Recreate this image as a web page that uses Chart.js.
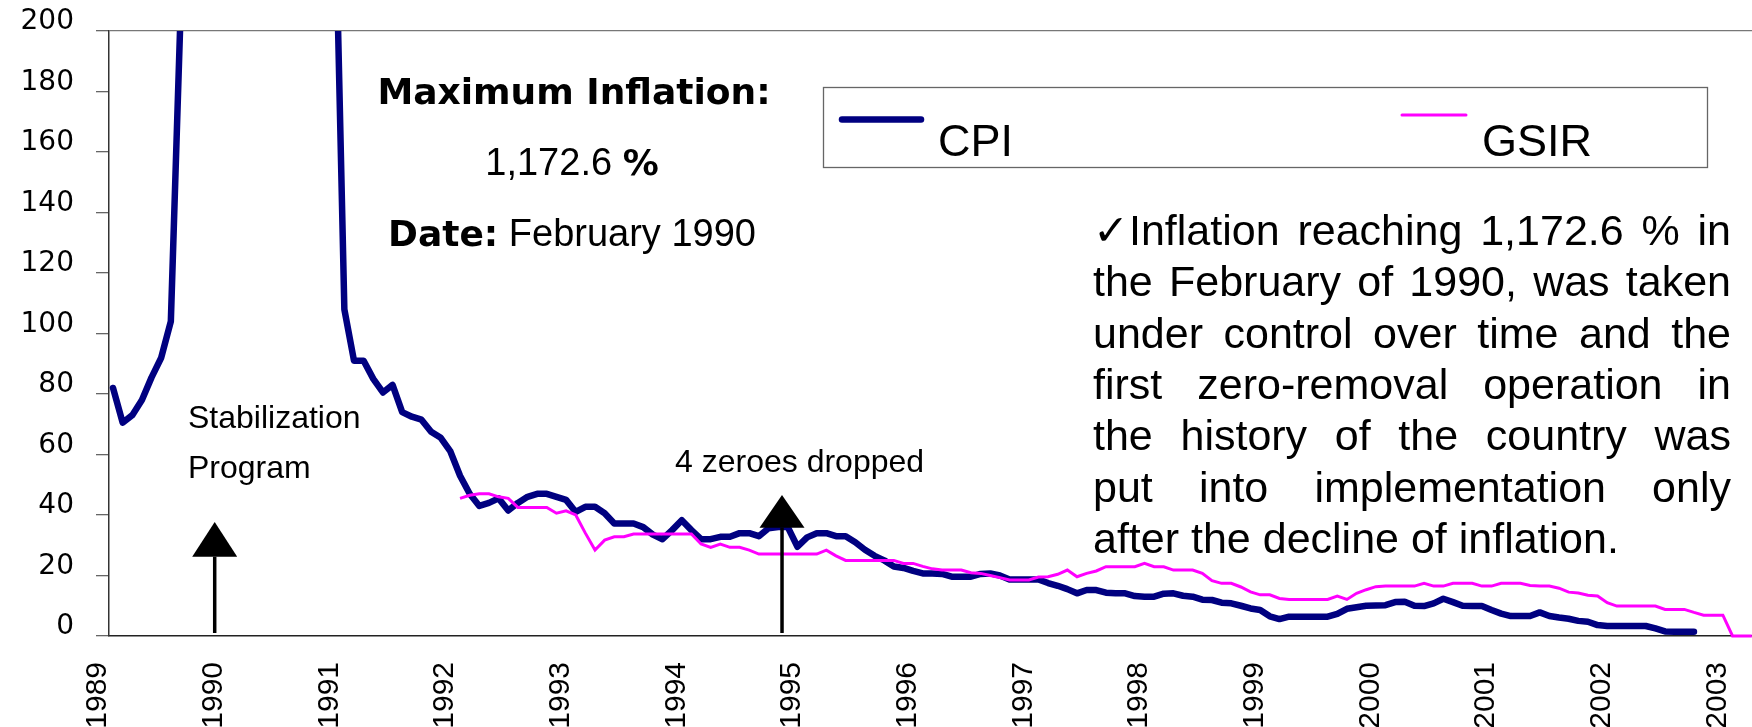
<!DOCTYPE html>
<html>
<head>
<meta charset="utf-8">
<script src="https://cdn.jsdelivr.net/npm/chart.js@4.4.1/dist/chart.umd.min.js"></script>
<style>
html,body{margin:0;padding:0;background:#fff;overflow:hidden}
canvas{display:block}
</style>
</head>
<body>
<canvas id="c" width="1752" height="727"></canvas>
<script>
// ---------------- DATA ----------------
const startYear = 1989;              // first CPI month: January 1989
const gsirStartYear = 1992;          // first GSIR month: January 1992
const yearLabels = ['1989','1990','1991','1992','1993','1994','1995','1996','1997','1998','1999','2000','2001','2002','2003'];
const yTickValues = [0,20,40,60,80,100,120,140,160,180,200];
const seriesNames = ['CPI','GSIR'];

// CPI, annual % change, monthly from Jan 1989 (values above 200 run off the chart)
const cpi = [82,70.5,73,78,85.5,92,104,205,350,450,550,640,
  1000,1172.6,1100,950,750,560,420,330,290,270,260,250,
  108,91,91,85,80.5,83,74,72.5,71.5,67.5,65.5,61,
  53,47,43,44,45.5,41.5,44,46,47,47,46,45,
  41,42.7,42.7,40.6,37.2,37.2,37.2,36,33.5,32,35,38.3,
  35,32,32,32.8,32.8,34,34,33,35.6,36,36,29.5,
  32.6,34,34,33,33,31,28.5,26.5,25,23,22.5,21.5,
  20.7,20.7,20.5,19.6,19.6,19.6,20.5,20.7,20,18.7,18.7,18.7,
  18.7,17.5,16.6,15.5,14.1,15.2,15.2,14.3,14.1,14.1,13.2,13,
  13,14,14.1,13.3,13,12,11.9,11,10.8,10,9.1,8.6,
  6.5,5.6,6.4,6.4,6.4,6.4,6.4,7.3,9,9.5,10,10.1,
  10.2,11.2,11.3,10,9.9,10.8,12.3,11.2,10,9.9,9.9,8.6,
  7.4,6.6,6.6,6.6,7.8,6.6,6.1,5.7,5,4.7,3.6,3.3,
  3.3,3.3,3.3,3.3,2.5,1.5,1.4,1.4,1.4];

// GSIR, monthly from Jan 1992
const gsir = [45.5,46.5,47,47,46,45.5,42.5,42.5,42.5,42.5,40.6,41.4,
  40,34,28.4,31.7,32.8,32.8,33.7,33.7,33.7,33.7,33.7,33.7,
  33.7,30.4,29.3,30.4,29.3,29.3,28.4,27.1,27.1,27.1,27.1,27.1,
  27.1,27.1,28.4,26.5,25,25,25,25,25,25,24,24,
  23,22.2,21.8,21.8,21.8,20.9,20.7,20,19.3,18.5,18.5,18.5,
  19.5,19.6,20.4,21.8,19.6,20.7,21.5,22.9,22.9,22.9,22.9,24,
  22.9,22.9,21.8,21.8,21.8,20.7,18.3,17.4,17.4,16.2,14.6,13.6,
  13.6,12.4,12.1,12.1,12.1,12.1,12.1,13.2,12.1,14.1,15.3,16.3,
  16.5,16.5,16.5,16.5,17.4,16.5,16.5,17.4,17.4,17.4,16.5,16.5,
  17.4,17.4,17.4,16.7,16.5,16.5,15.8,14.5,14.2,13.5,13.2,11,
  9.9,9.9,9.9,9.9,9.9,8.8,8.8,8.8,7.8,6.9,6.9,6.9,
  0,0,0];

// annotation texts
const noteLines = [
  '\u2713Inflation reaching 1,172.6 % in',
  'the February of 1990, was taken',
  'under control over time and the',
  'first  zero-removal  operation  in',
  'the history of the country was',
  'put into implementation only',
  'after the decline of inflation.'
];

// ---------------- BUILD ----------------
const toPoints = (arr, y0) => arr.map((v, i) => ({ x: y0 + i / 12, y: v }));

const REG = "'Liberation Sans', Arial, Helvetica, sans-serif";
const BOLD = "'DejaVu Sans', Verdana, sans-serif";

const annotations = {
  id: 'annotations',
  afterDraw(chart) {
    const ctx = chart.ctx;
    const xs = chart.scales.x, ys = chart.scales.y;
    ctx.save();
    ctx.fillStyle = '#000';
    ctx.textBaseline = 'alphabetic';

    const mixed = (parts, cx, y) => {
      let w = 0;
      parts.forEach(p => { ctx.font = p[1]; w += ctx.measureText(p[0]).width; });
      let x = cx - w / 2;
      ctx.textAlign = 'left';
      parts.forEach(p => { ctx.font = p[1]; ctx.fillText(p[0], x, y); x += ctx.measureText(p[0]).width; });
    };
    mixed([['Maximum Inflation:', 'bold 36px ' + BOLD]], 574, 104);
    mixed([['1,172.6 ', '38px ' + REG], ['%', 'bold 36px ' + BOLD]], 572, 175);
    mixed([['Date:', 'bold 36px ' + BOLD], [' February 1990', '38px ' + REG]], 572, 246);

    // justified paragraph
    ctx.font = '43px ' + REG;
    ctx.textAlign = 'left';
    const left = 1093, right = 1731, top = 245, lh = 51.3;
    noteLines.forEach((line, i) => {
      const y = top + i * lh;
      const words = line.split(/\s+/);
      if (i === noteLines.length - 1) { ctx.fillText(words.join(' '), left, y); return; }
      const ws = words.map(w => ctx.measureText(w).width);
      const gap = (right - left - ws.reduce((a, b) => a + b, 0)) / (words.length - 1);
      let x = left;
      words.forEach((w, k) => { ctx.fillText(w, x, y); x += ws[k] + gap; });
    });

    // event labels
    ctx.font = '32px ' + REG;
    ctx.fillText('Stabilization', 188, 428);
    ctx.fillText('Program', 188, 478);
    ctx.fillText('4 zeroes dropped', 675, 472);

    // arrows (anchored to the scales)
    const arrow = (xv, tipV, baseV, footV) => {
      const px = xs.getPixelForValue(xv);
      const tip = ys.getPixelForValue(tipV), base = ys.getPixelForValue(baseV), foot = ys.getPixelForValue(footV);
      ctx.strokeStyle = '#000';
      ctx.lineWidth = 3.5;
      ctx.beginPath(); ctx.moveTo(px, foot); ctx.lineTo(px, base); ctx.stroke();
      ctx.beginPath();
      ctx.moveTo(px, tip); ctx.lineTo(px - 22.5, base); ctx.lineTo(px + 22.5, base); ctx.closePath();
      ctx.fill();
    };
    arrow(1989 + 10.55 / 12, 37.7, 26.2, 1);
    arrow(1989 + 69.4 / 12, 46.6, 35.8, 1);

    // legend box
    ctx.strokeStyle = '#666';
    ctx.lineWidth = 1.3;
    ctx.strokeRect(823.5, 87.5, 884, 80);
    ctx.lineCap = 'round';
    ctx.strokeStyle = '#000080'; ctx.lineWidth = 6.5;
    ctx.beginPath(); ctx.moveTo(842, 119.6); ctx.lineTo(921, 119.6); ctx.stroke();
    ctx.strokeStyle = '#FF00FF'; ctx.lineWidth = 3;
    ctx.beginPath(); ctx.moveTo(1402, 115); ctx.lineTo(1466, 115); ctx.stroke();
    ctx.font = '45px ' + REG;
    ctx.fillText(seriesNames[0], 938, 156);
    ctx.fillText(seriesNames[1], 1482, 156);
    ctx.restore();
  }
};

new Chart(document.getElementById('c'), {
  type: 'line',
  data: {
    datasets: [
      {
        label: seriesNames[1],
        data: toPoints(gsir, gsirStartYear),
        borderColor: '#FF00FF',
        borderWidth: 3,
        pointRadius: 0,
        tension: 0,
        order: 0,
        clip: { left: 0, top: 0, right: 4, bottom: 4 }
      },
      {
        label: seriesNames[0],
        data: toPoints(cpi, startYear),
        borderColor: '#000080',
        borderWidth: 6.5,
        borderJoinStyle: 'round',
        borderCapStyle: 'round',
        pointRadius: 0,
        tension: 0,
        order: 1,
        clip: { left: 0, top: 0, right: 4, bottom: 4 }
      }
    ]
  },
  options: {
    responsive: false,
    animation: false,
    events: [],
    layout: { padding: { top: 31, left: 0, right: 0, bottom: 0 } },
    plugins: { legend: { display: false }, tooltip: { enabled: false }, title: { display: false } },
    scales: {
      x: {
        type: 'linear',
        min: startYear - 0.415 / 12,
        max: startYear + 170.02 / 12,
        afterBuildTicks: s => { s.ticks = yearLabels.map(v => ({ value: +v })); },
        afterFit: s => { s.height = 91; s.paddingLeft = 0; s.paddingRight = 0; },
        grid: { display: true, drawOnChartArea: false, drawTicks: false },
        border: { display: true, color: '#222', width: 1.5 },
        ticks: {
          autoSkip: false,
          minRotation: 90,
          maxRotation: 90,
          padding: 26,
          labelOffset: -15,
          color: '#000',
          font: { family: REG, size: 30 },
          callback: v => String(Math.round(v))
        }
      },
      y: {
        min: 0,
        max: 200,
        afterBuildTicks: s => { s.ticks = yTickValues.map(v => ({ value: v })); },
        afterFit: s => { s.width = 109; s.paddingTop = 0; s.paddingBottom = 0; },
        grid: {
          drawOnChartArea: true,
          drawTicks: true,
          tickLength: 13,
          tickColor: '#666',
          lineWidth: 1.3,
          color: c => (c.tick && c.tick.value === 200) ? '#777' : 'rgba(0,0,0,0)'
        },
        border: { display: true, color: '#333', width: 1.5 },
        ticks: {
          padding: 22,
          labelOffset: -9,
          color: '#000',
          font: { family: BOLD, size: 28 }
        }
      }
    }
  },
  plugins: [annotations]
});
</script>
</body>
</html>
